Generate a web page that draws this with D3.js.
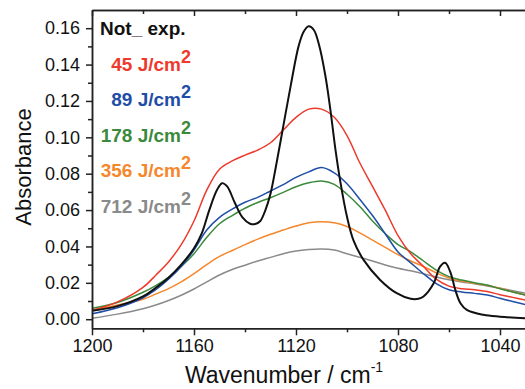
<!DOCTYPE html>
<head>
<meta charset='utf-8'>
<style>
  body { margin: 0; background: #fff; }
  svg { font-family: Arial, 'Liberation Sans', sans-serif; display: block; }
  .axis path, .axis line { stroke: #222; stroke-width: 1.5px; }
  .axis text { font-size: 18px; fill: #111; }
  .legend text { font-size: 19px; font-weight: bold; }
</style>
</head>
<body>
<div id='vis'></div>
<script src='https://cdn.jsdelivr.net/npm/d3@7/dist/d3.min.js'></script>
<script>
  // wavenumber grid (cm-1) for the exposed samples
  const wavenumber = [1200,1190,1180,1175,1170,1165,1160,1155,1150,1145,1140,1135,1130,1125,1120,1115,1110,1105,1100,1095,1090,1085,1080,1075,1070,1065,1060,1055,1050,1045,1040,1035,1030]
  const j45 = [0.0048,0.0095,0.0175,0.0242,0.0315,0.041,0.054,0.071,0.0825,0.087,0.0902,0.093,0.097,0.104,0.111,0.1155,0.1155,0.111,0.101,0.086,0.073,0.060,0.046,0.036,0.029,0.022,0.0182,0.0168,0.0162,0.0152,0.0135,0.012,0.0105]
  const j89 = [0.003,0.0063,0.0118,0.0162,0.022,0.029,0.038,0.049,0.056,0.0605,0.0643,0.067,0.0705,0.074,0.078,0.081,0.0834,0.0805,0.0745,0.066,0.057,0.047,0.037,0.031,0.025,0.0196,0.0162,0.015,0.0142,0.0133,0.0115,0.0097,0.008]
  const j178 = [0.006,0.0092,0.0148,0.0185,0.023,0.029,0.036,0.045,0.0525,0.057,0.061,0.0642,0.0668,0.0697,0.0728,0.075,0.076,0.0741,0.0687,0.062,0.054,0.047,0.041,0.037,0.032,0.027,0.0234,0.0215,0.020,0.0188,0.0167,0.015,0.0133]
  const j356 = [0.005,0.0078,0.011,0.0138,0.0168,0.0205,0.025,0.030,0.0345,0.0378,0.041,0.044,0.0467,0.049,0.0512,0.053,0.0536,0.053,0.051,0.0475,0.0435,0.0395,0.0355,0.032,0.029,0.0255,0.0227,0.021,0.0198,0.0186,0.017,0.015,0.0133]
  const j712 = [0.0005,0.0028,0.0058,0.0078,0.0103,0.0132,0.0166,0.0205,0.0243,0.0273,0.0297,0.032,0.034,0.036,0.0375,0.0383,0.0386,0.038,0.036,0.034,0.032,0.0298,0.028,0.0266,0.025,0.0232,0.0217,0.0205,0.0195,0.0183,0.017,0.0157,0.0143]

  // not exposed sample, denser grid for the sharp bands
  const wnRef = [1200,1190,1180,1175,1170,1165,1160,1157,1154,1151,1149,1147,1144,1141,1138,1136,1134,1132,1130,1128,1125,1122,1119,1117,1115,1113,1111,1108.5,1106.5,1104.5,1102.5,1100,1097.5,1093.5,1087,1080.5,1075,1072,1070,1066,1063.5,1061.5,1059.5,1057.5,1055.5,1053,1046.5,1040,1030]
  const notExp = [0.0047,0.0072,0.0125,0.0172,0.0228,0.030,0.039,0.047,0.060,0.071,0.0748,0.073,0.064,0.056,0.0525,0.0523,0.054,0.060,0.069,0.083,0.106,0.129,0.150,0.158,0.161,0.159,0.151,0.134,0.115,0.093,0.0747,0.0563,0.0435,0.0326,0.0216,0.0143,0.0112,0.0112,0.0125,0.0198,0.0289,0.031,0.026,0.016,0.0088,0.0051,0.0024,0.0014,0.0005]

  const seriesNames = ['Not_ exp.', '45', '89', '178', '356', '712']
  const colors = ['#111111', '#ee3a2c', '#1f4ea6', '#3b8a3b', '#f5872c', '#8a8a8a']

  const xTicks = [1200, 1160, 1120, 1080, 1040]
  const xMinor = [1180, 1140, 1100, 1060]
  const yTicks = [0, 0.02, 0.04, 0.06, 0.08, 0.10, 0.12, 0.14, 0.16]
  const yMinor = [0.01, 0.03, 0.05, 0.07, 0.09, 0.11, 0.13, 0.15]

  const W = 525, H = 389
  const mLeft = 92, mTop = 10, mBottom = 328.3

  const svg = d3.select('#vis').append('svg')
    .attr('width', W).attr('height', H)

  const x = d3.scaleLinear().domain([1200, 1000]).range([mLeft, mLeft + 200 * 2.55])
  const y = d3.scaleLinear().domain([-0.005, 0.17]).range([mBottom, mTop])
  const mRight = x(1000)

  svg.append('clipPath').attr('id', 'clip')
    .append('rect').attr('x', mLeft).attr('y', mTop).attr('width', mRight - mLeft).attr('height', mBottom - mTop)

  const line = d3.line()
    .x(d => x(d[0])).y(d => y(d[1]))
    .curve(d3.curveCatmullRom.alpha(0.5))

  const series = [
    d3.zip(wnRef, notExp),
    d3.zip(wavenumber, j45),
    d3.zip(wavenumber, j89),
    d3.zip(wavenumber, j178),
    d3.zip(wavenumber, j356),
    d3.zip(wavenumber, j712)
  ]

  const plot = svg.append('g').attr('clip-path', 'url(#clip)')
  // draw exposed first, reference on top
  ;[5, 4, 3, 2, 1, 0].forEach(i => {
    plot.append('path')
      .datum(series[i])
      .attr('fill', 'none')
      .attr('stroke', colors[i])
      .attr('stroke-width', i === 0 ? 2 : 1.5)
      .attr('d', line)
  })

  // axes
  svg.append('g').attr('class', 'axis')
    .attr('transform', `translate(0,${mBottom})`)
    .call(d3.axisBottom(x).tickValues(xTicks).tickSize(7).tickSizeOuter(0).tickPadding(4).tickFormat(d3.format('d')))
  svg.append('g').attr('class', 'axis')
    .attr('transform', `translate(0,${mBottom})`)
    .call(d3.axisBottom(x).tickValues(xMinor).tickSize(4).tickSizeOuter(0).tickFormat(''))
  svg.append('g').attr('class', 'axis')
    .attr('transform', `translate(0,${mTop})`)
    .call(d3.axisTop(x).tickValues(xTicks).tickSize(-6).tickSizeOuter(0).tickFormat(''))
  svg.append('g').attr('class', 'axis')
    .attr('transform', `translate(0,${mTop})`)
    .call(d3.axisTop(x).tickValues(xMinor).tickSize(-4).tickSizeOuter(0).tickFormat(''))
  svg.append('g').attr('class', 'axis')
    .attr('transform', `translate(${mLeft},0)`)
    .call(d3.axisLeft(y).tickValues(yTicks).tickSize(6).tickSizeOuter(0).tickPadding(6).tickFormat(d3.format('.2f')))
  svg.append('g').attr('class', 'axis')
    .attr('transform', `translate(${mLeft},0)`)
    .call(d3.axisLeft(y).tickValues(yMinor).tickSize(4).tickSizeOuter(0).tickFormat(''))

  // axis titles
  const xt = svg.append('text')
    .attr('x', 284).attr('y', 383)
    .attr('text-anchor', 'middle')
    .attr('font-size', 23).attr('fill', '#111')
  xt.append('tspan').text('Wavenumber / cm')
  xt.append('tspan').attr('font-size', 14).attr('dy', -11).text('-1')

  svg.append('text')
    .attr('transform', 'translate(31,167) rotate(-90)')
    .attr('text-anchor', 'middle')
    .attr('font-size', 22).attr('fill', '#111')
    .text('Absorbance')

  // legend
  const legend = svg.append('g').attr('class', 'legend')
  legend.append('text')
    .attr('x', 100).attr('y', 35)
    .attr('fill', colors[0])
    .text(seriesNames[0])
  seriesNames.slice(1).forEach((name, i) => {
    const t = legend.append('text')
      .attr('x', 191).attr('y', 70.5 + i * 35.5)
      .attr('text-anchor', 'end')
      .attr('fill', colors[i + 1])
    t.append('tspan').text(name + ' J/cm')
    t.append('tspan').attr('dy', -8).attr('font-size', 18).text('2')
  })
</script>
</body>
